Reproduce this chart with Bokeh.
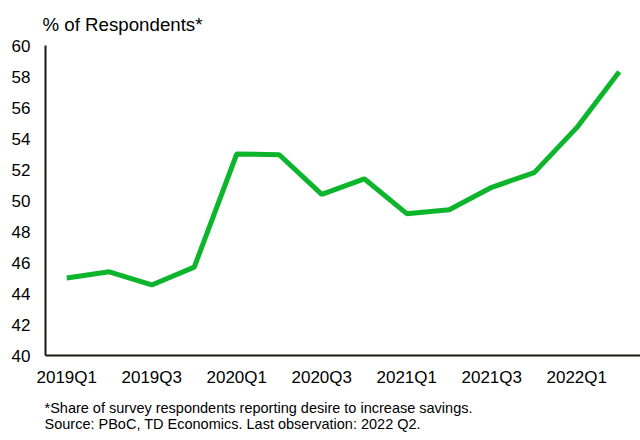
from bokeh.plotting import figure
from bokeh.models import Range1d, FixedTicker, Title
from bokeh.embed import file_html
from bokeh.resources import INLINE

quarters = ["2019Q1", "2019Q2", "2019Q3", "2019Q4", "2020Q1", "2020Q2", "2020Q3",
            "2020Q4", "2021Q1", "2021Q2", "2021Q3", "2021Q4", "2022Q1", "2022Q2"]
values = [45.0, 45.4, 44.55, 45.7, 53.0, 52.95, 50.4, 51.4, 49.15, 49.4, 50.85, 51.8, 54.7, 58.3]
y_ticks = [40, 42, 44, 46, 48, 50, 52, 54, 56, 58, 60]
title_text = "% of Respondents*"
notes = ["*Share of survey respondents reporting desire to increase savings.",
         "Source: PBoC, TD Economics. Last observation: 2022 Q2."]

FONT = "Liberation Sans"
x = list(range(len(quarters)))

p = figure(width=640, height=440, output_backend="svg", toolbar_location=None,
           x_range=Range1d(-0.5, len(quarters) - 0.5), y_range=Range1d(40, 60),
           min_border_left=45, min_border_right=0, min_border_top=44, min_border_bottom=84)
p.outline_line_color = None
p.grid.grid_line_color = None
p.background_fill_color = "white"

p.line(x, values, line_color="#0cb52c", line_width=5)

p.xaxis.ticker = FixedTicker(ticks=x[::2])
p.xaxis.major_label_overrides = {i: quarters[i] for i in x}
p.yaxis.ticker = FixedTicker(ticks=y_ticks)
for ax in (p.xaxis, p.yaxis):
    ax.axis_line_color = "#1a1a10"
    ax.axis_line_width = 2
    ax.major_tick_line_color = None
    ax.minor_tick_line_color = None
    ax.major_tick_out = 0
    ax.major_tick_in = 0
    ax.major_label_text_font = FONT
    ax.major_label_text_font_size = "17px"
    ax.major_label_text_color = "#000000"
p.yaxis.major_label_standoff = 15
p.xaxis.major_label_standoff = 12

p.title = Title(text=title_text, align="left", offset=-3, standoff=22,
                text_font=FONT, text_font_size="18.7px", text_font_style="normal",
                text_color="#000000")

foot = Title(text="\n".join(notes), align="left", offset=-1, standoff=17,
             text_font=FONT, text_font_size="14.5px", text_font_style="normal",
             text_color="#000000", text_line_height=1.0)
p.add_layout(foot, "below")

open("out.html", "w").write(file_html(p, INLINE))
